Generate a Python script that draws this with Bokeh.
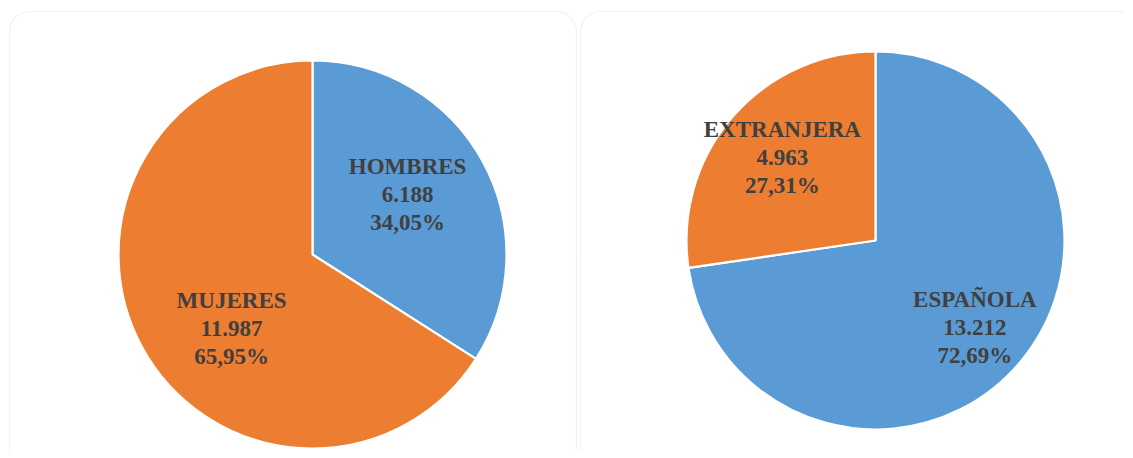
import math
from bokeh.plotting import figure
from bokeh.models import Range1d, BoxAnnotation
from bokeh.core.properties import value
from bokeh.embed import file_html
from bokeh.resources import INLINE

# ---- data ----
left_categories = ["HOMBRES", "MUJERES"]
left_values = [6188, 11987]
right_categories = ["ESPAÑOLA", "EXTRANJERA"]
right_values = [13212, 4963]

BLUE = "#5B9BD5"
ORANGE = "#ED7D31"
left_colors = [BLUE, ORANGE]
right_colors = [BLUE, ORANGE]

W, H = 1125, 450
p = figure(width=W, height=H, x_range=Range1d(0, W), y_range=Range1d(0, H),
           output_backend="svg", toolbar_location=None, min_border=0,
           background_fill_color="white", border_fill_color="white")
p.axis.visible = False
p.grid.visible = False
p.outline_line_color = None

def sy(y):  # reference pixel y -> data y
    return H - y

# panels
for l, r in [(9, 576), (580, 1145)]:
    p.add_layout(BoxAnnotation(left=l, right=r, top=sy(11), bottom=sy(470),
                               border_radius=20, fill_color="white", fill_alpha=1,
                               line_color="#d0d0d0", line_width=1.2, level="underlay"))

def fmt_int(v):
    return f"{v:,}".replace(",", ".")

def fmt_pct(f):
    return f"{f*100:.2f}%".replace(".", ",")

def draw_pie(cx, cy, r, cats, vals, cols, label_pos):
    total = sum(vals)
    cum = 0.0
    starts, ends = [], []
    for v in vals:
        c0 = cum / total
        cum += v
        c1 = cum / total
        starts.append(math.pi / 2 - 2 * math.pi * c1)
        ends.append(math.pi / 2 - 2 * math.pi * c0)
    p.wedge(x=[cx] * len(vals), y=[sy(cy)] * len(vals), radius=r,
            start_angle=starts, end_angle=ends, fill_color=cols,
            line_color="white", line_width=2.2)
    xs, ys, texts = [], [], []
    for cat, v, (ang, rr) in zip(cats, vals, label_pos):
        a = math.radians(ang)
        lx = cx + rr * r * math.sin(a)
        ly = sy(cy) + rr * r * math.cos(a)
        for k, t in enumerate([cat, fmt_int(v), fmt_pct(v / total)]):
            xs.append(lx)
            ys.append(ly + (1 - k) * 28)
            texts.append(t)
    p.text(x=xs, y=ys, text=texts, text_align="center", text_baseline="middle",
           text_font=value("Liberation Serif"), text_font_style="bold",
           text_font_size="23px", text_color="#404040")

draw_pie(312, 254, 194, left_categories, left_values, left_colors,
         [(57.7, 0.58), (227.6, 0.565)])
draw_pie(875, 240, 189, right_categories, right_values, right_colors,
         [(131.3, 0.70), (311.7, 0.66)])

open("out.html", "w").write(file_html(p, INLINE))
